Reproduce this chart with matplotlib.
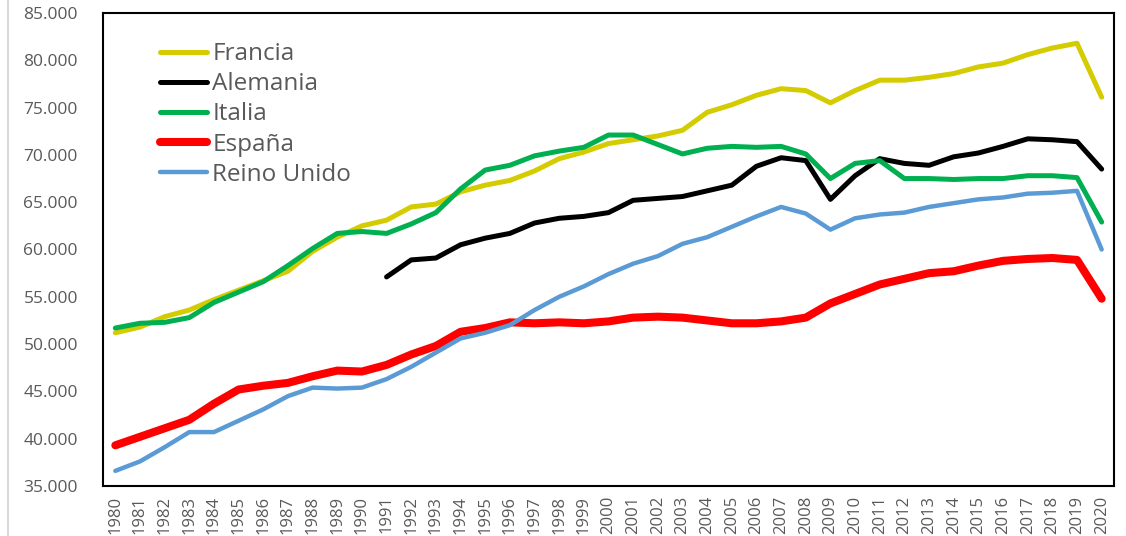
import matplotlib
matplotlib.use("Agg")
import matplotlib.pyplot as plt
from matplotlib.lines import Line2D
from matplotlib.ticker import FuncFormatter

years = list(range(1980, 2021))

francia = [51.2, 51.8, 52.9, 53.6, 54.7, 55.7, 56.7, 57.7, 59.8, 61.3,
           62.5, 63.1, 64.5, 64.8, 66.1, 66.8, 67.3, 68.3, 69.6, 70.3,
           71.2, 71.6, 72.0, 72.6, 74.5, 75.3, 76.3, 77.0, 76.8, 75.5,
           76.8, 77.9, 77.9, 78.2, 78.6, 79.3, 79.7, 80.6, 81.3, 81.8, 76.1]

alemania_years = list(range(1991, 2021))
alemania = [57.1, 58.9, 59.1, 60.5, 61.2, 61.7, 62.8, 63.3, 63.5, 63.9,
            65.2, 65.4, 65.6, 66.2, 66.8, 68.8, 69.7, 69.4, 65.3, 67.8,
            69.6, 69.1, 68.9, 69.8, 70.2, 70.9, 71.7, 71.6, 71.4, 68.5]

italia = [51.7, 52.2, 52.3, 52.8, 54.4, 55.5, 56.6, 58.3, 60.1, 61.7,
          61.9, 61.7, 62.7, 63.9, 66.4, 68.4, 68.9, 69.9, 70.4, 70.8,
          72.1, 72.1, 71.1, 70.1, 70.7, 70.9, 70.8, 70.9, 70.1, 67.5,
          69.1, 69.4, 67.5, 67.5, 67.4, 67.5, 67.5, 67.8, 67.8, 67.6, 62.9]

espana = [39.3, 40.2, 41.1, 42.0, 43.7, 45.2, 45.6, 45.9, 46.6, 47.2,
          47.1, 47.8, 48.9, 49.8, 51.3, 51.7, 52.3, 52.2, 52.3, 52.2,
          52.4, 52.8, 52.9, 52.8, 52.5, 52.2, 52.2, 52.4, 52.8, 54.3,
          55.3, 56.3, 56.9, 57.5, 57.7, 58.3, 58.8, 59.0, 59.1, 58.9, 54.8]

reino_unido = [36.6, 37.6, 39.1, 40.7, 40.7, 41.9, 43.1, 44.5, 45.4, 45.3,
               45.4, 46.3, 47.6, 49.1, 50.6, 51.2, 52.0, 53.6, 55.0, 56.1,
               57.4, 58.5, 59.3, 60.6, 61.3, 62.4, 63.5, 64.5, 63.8, 62.1,
               63.3, 63.7, 63.9, 64.5, 64.9, 65.3, 65.5, 65.9, 66.0, 66.2, 60.0]

yticks = [35000, 40000, 45000, 50000, 55000, 60000, 65000, 70000, 75000, 80000, 85000]

plt.rcParams['font.family'] = ['Open Sans', 'DejaVu Sans']
text_color = '#595959'

fig = plt.figure(figsize=(11.26, 5.36), dpi=100)
ax = fig.add_axes([103/1126, 1 - 486/536, (1114-103)/1126, (486-13)/536])

ax.plot(years, [v*1000 for v in francia], color='#D4CC00', lw=3.6,
        solid_capstyle='round', solid_joinstyle='round', label='Francia')
ax.plot(alemania_years, [v*1000 for v in alemania], color='#000000', lw=3.6,
        solid_capstyle='round', solid_joinstyle='round', label='Alemania')
ax.plot(years, [v*1000 for v in italia], color='#00B050', lw=3.6,
        solid_capstyle='round', solid_joinstyle='round', label='Italia')
ax.plot(years, [v*1000 for v in espana], color='#FF0000', lw=5.8,
        solid_capstyle='round', solid_joinstyle='round', label='España')
ax.plot(years, [v*1000 for v in reino_unido], color='#5B9BD5', lw=3.2,
        solid_capstyle='round', solid_joinstyle='round', label='Reino Unido')

ax.set_xlim(1979.5, 2020.5)
ax.set_ylim(35000, 85000)
ax.set_yticks(yticks)
ax.yaxis.set_major_formatter(FuncFormatter(lambda v, p: f"{int(v):,}".replace(',', '.')))
ax.set_xticks(years)
ax.set_xticklabels([str(y) for y in years], rotation=90, va='top')
ax.tick_params(axis='both', length=0, labelsize=12.5, colors=text_color)
ax.tick_params(axis='x', labelsize=12, pad=7)
ax.tick_params(axis='y', pad=18)
for s in ax.spines.values():
    s.set_linewidth(1.5)
    s.set_color('black')

leg = ax.legend(loc='upper left', bbox_to_anchor=(0.0564, 0.938), frameon=False,
                fontsize=17.5, handlelength=1.95, handletextpad=0.2,
                labelspacing=0.25, borderpad=0, borderaxespad=0)
for t in leg.get_texts():
    t.set_color(text_color)

fig.add_artist(Line2D([8/1126, 8/1126], [0, 1], color='#D9D9D9', lw=1.5,
                      transform=fig.transFigure))

fig.savefig('out.png', dpi=100)
